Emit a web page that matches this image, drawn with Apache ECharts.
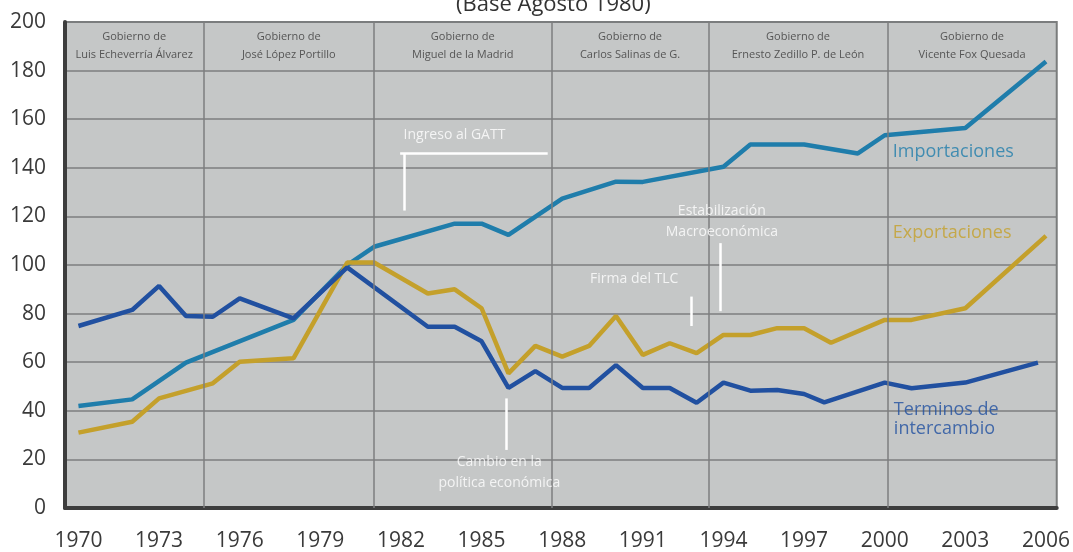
<!DOCTYPE html>
<html>
<head>
<meta charset="utf-8">
<script src="https://cdn.jsdelivr.net/npm/echarts@6/dist/echarts.min.js"></script>
<style>
  html, body { margin: 0; padding: 0; background: #fff; }
  #myChart { width: 1073px; height: 552px; }
</style>
</head>
<body>
<div id="myChart"></div>
<script>
// años que llevan etiqueta en el eje x
const tickYears = [1970, 1973, 1976, 1979, 1982, 1985, 1988, 1991, 1994, 1997, 2000, 2003, 2006];

// series (año, índice base agosto 1980 = 100)
const importaciones = [
  [1970, 42], [1972, 44.7], [1974, 59.8], [1978, 77.4], [1980, 100], [1981, 107.5],
  [1984, 117], [1985, 117], [1986, 112.4], [1988, 127.3], [1990, 134.3], [1991, 134.2],
  [1994, 140.4], [1995, 149.6], [1997, 149.6], [1999, 145.9], [2000, 153.4],
  [2003, 156.4], [2006, 183.7]
];
const exportaciones = [
  [1970, 31], [1972, 35.5], [1973, 45.1], [1975, 51.3], [1976, 60.2], [1978, 61.6],
  [1980, 101], [1981, 101], [1983, 88.3], [1984, 90], [1985, 82.2], [1986, 55.4],
  [1987, 66.7], [1988, 62.3], [1989, 66.7], [1990, 79], [1991, 63], [1992, 67.8],
  [1993, 63.7], [1994, 71.2], [1995, 71.2], [1996, 74], [1997, 74], [1998, 68],
  [2000, 77.4], [2001, 77.4], [2003, 82.2], [2006, 112]
];
const terminos = [
  [1970, 74.9], [1972, 81.5], [1973, 91.4], [1974, 79], [1975, 78.7], [1976, 86.3],
  [1978, 78], [1980, 99], [1983, 74.6], [1984, 74.6], [1985, 68.6], [1986, 49.4],
  [1987, 56.3], [1988, 49.4], [1989, 49.4], [1990, 58.8], [1991, 49.4], [1992, 49.4],
  [1993, 43.3], [1994, 51.6], [1995, 48.3], [1996, 48.6], [1997, 46.9], [1997.75, 43.5],
  [2000, 51.6], [2001, 49.3], [2003, 51.6], [2005.7, 59.8]
];

// periodos de gobierno (límites en años)
const gobiernos = [
  'Gobierno de\nLuis Echeverría Álvarez',
  'Gobierno de\nJosé López Portillo',
  'Gobierno de\nMiguel de la Madrid',
  'Gobierno de\nCarlos Salinas de G.',
  'Gobierno de\nErnesto Zedillo P. de León',
  'Gobierno de\nVicente Fox Quesada'
];
const cortes = [1969.5, 1974.65, 1981.0, 1987.6, 1993.45, 2000.1, 2006.4];

// notas en blanco
const notas = [
  [1983.99, 153.5, 'Ingreso al GATT'],
  [1993.94, 118.1, 'Estabilización\nMacroeconómica'],
  [1990.68, 94.1, 'Firma del TLC'],
  [1985.66, 14.6, 'Cambio en la\npolítica económica']
];
const trazos = [
  [[1981.97, 145.8], [1987.46, 145.8]],
  [[1982.13, 145.8], [1982.13, 122.4]],
  [[1993.87, 109], [1993.87, 81]],
  [[1992.79, 87], [1992.79, 74.9]],
  [[1985.91, 45.1], [1985.91, 23.9]]
];

// nombres de las series junto a las líneas
const nombres = [
  [2000.3, 146.6, 'Importaciones'],
  [2000.3, 113.2, 'Exportaciones'],
  [2000.34, 36.5, 'Terminos de\nintercambio']
];
const colores = ['#1f7dab', '#c4a02b', '#2150a0'];

const myChart = echarts.init(document.getElementById('myChart'));

myChart.setOption({
  animation: false,
  textStyle: { fontFamily: 'Open Sans' },
  title: {
    text: '(Base Agosto 1980)',
    left: 451,
    top: -11,
    textStyle: { fontSize: 22, fontWeight: 'normal', color: '#333' }
  },
  grid: {
    left: 65, right: 15, top: 22, bottom: 44,
    show: true,
    backgroundColor: '#c5c7c7',
    borderColor: '#7a7c7c',
    borderWidth: 2
  },
  xAxis: {
    type: 'value',
    min: cortes[0],
    max: cortes[cortes.length - 1],
    axisLine: { show: true, lineStyle: { color: '#3d3d3d', width: 4 } },
    axisTick: { show: false },
    splitLine: { show: false },
    axisLabel: {
      customValues: tickYears,
      formatter: v => String(v),
      fontSize: 21,
      color: '#3a3a3a',
      margin: 23
    }
  },
  yAxis: {
    type: 'value',
    min: 0,
    max: 200,
    interval: 20,
    axisLine: { show: true, lineStyle: { color: '#3d3d3d', width: 4 } },
    axisTick: { show: false },
    splitLine: { lineStyle: { color: '#7c7e7f', width: 1.5 } },
    axisLabel: { fontSize: 21, color: '#3a3a3a', margin: 19 }
  },
  series: [
    {
      // divisiones y encabezados de los gobiernos
      type: 'line',
      data: [],
      z: 1,
      silent: true,
      markLine: {
        silent: true,
        symbol: 'none',
        label: { show: false },
        lineStyle: { color: '#7c7e7f', width: 1.5, type: 'solid' },
        data: cortes.slice(1, -1).map(x => ({ xAxis: x }))
      },
      markArea: {
        silent: true,
        itemStyle: { color: 'rgba(0,0,0,0)' },
        label: { show: true, position: 'inside', color: '#555', fontSize: 11, lineHeight: 18 },
        data: gobiernos.map((g, i) => [
          { name: g, xAxis: cortes[i], yAxis: 200 },
          { xAxis: cortes[i + 1], yAxis: 180 }
        ])
      }
    },
    {
      name: 'Importaciones',
      type: 'line',
      data: importaciones,
      symbol: 'none',
      z: 3,
      lineStyle: { color: colores[0], width: 4.5 }
    },
    {
      name: 'Exportaciones',
      type: 'line',
      data: exportaciones,
      symbol: 'none',
      z: 3,
      lineStyle: { color: colores[1], width: 4.5 }
    },
    {
      name: 'Terminos de intercambio',
      type: 'line',
      data: terminos,
      symbol: 'none',
      z: 4,
      lineStyle: { color: colores[2], width: 4.5 }
    },
    {
      // notas blancas
      type: 'scatter',
      symbolSize: 0,
      z: 5,
      silent: true,
      data: notas,
      label: {
        show: true,
        position: 'inside',
        color: '#fff',
        fontSize: 14,
        lineHeight: 21,
        formatter: p => p.data[2]
      },
      markLine: {
        silent: true,
        symbol: 'none',
        label: { show: false },
        lineStyle: { color: '#fff', width: 2.5, type: 'solid' },
        data: trazos.map(t => [{ coord: t[0] }, { coord: t[1] }])
      }
    },
    {
      // nombres de series
      type: 'scatter',
      symbolSize: 0,
      z: 5,
      silent: true,
      data: nombres.map((n, i) => ({
        value: n,
        label: { color: colores[i] }
      })),
      label: {
        show: true,
        position: 'right',
        distance: 0,
        fontSize: 18,
        lineHeight: 19,
        formatter: p => p.value[2]
      }
    }
  ]
});
</script>
</body>
</html>
